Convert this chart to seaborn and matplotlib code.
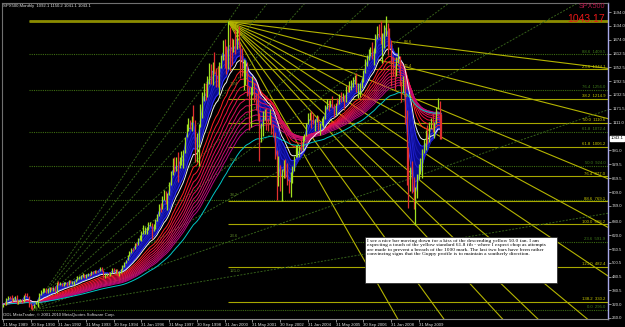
import numpy as np
import pandas as pd
import matplotlib
matplotlib.use("Agg")
import matplotlib.pyplot as plt
from matplotlib.patches import Rectangle
import seaborn as sns

sns.set_theme(style="dark")
plt.rcParams['font.family'] = ['Liberation Sans', 'DejaVu Sans']

# ---------------- data (monthly SPX500, May 1989 .. Jun 2010) ----------------
close = [
 320.5, 318.0, 346.1, 351.5, 349.2, 340.4, 346.0, 353.4,
 329.1, 331.9, 339.9, 330.8, 361.2, 358.0, 356.2, 322.6, 306.1, 304.0, 322.2, 330.2,
 343.9, 367.1, 375.2, 375.4, 389.8, 371.2, 387.8, 395.4, 387.9, 392.5, 375.2, 417.1,
 408.8, 412.7, 403.7, 415.0, 415.4, 408.1, 424.2, 414.0, 417.8, 418.7, 431.4, 435.7,
 438.8, 443.4, 451.7, 440.2, 450.2, 450.5, 448.1, 463.6, 458.9, 467.8, 461.8, 466.5,
 481.6, 467.1, 445.8, 450.9, 456.5, 444.3, 458.3, 475.5, 462.7, 472.4, 453.7, 459.3,
 470.4, 487.4, 500.7, 514.7, 533.4, 544.8, 562.1, 561.9, 584.4, 581.5, 605.4, 615.9,
 636.0, 640.4, 645.5, 654.2, 669.1, 670.6, 640.0, 652.0, 687.3, 705.3, 757.0, 740.7,
 786.2, 790.8, 757.1, 801.3, 848.3, 885.1, 954.3, 899.5, 947.3, 914.6, 955.4, 970.4,
 980.3, 1049.3, 1101.8, 1111.8, 1090.8, 1133.8, 1120.7, 957.3, 1017.0, 1098.7, 1163.6, 1229.2,
 1279.6, 1238.3, 1286.4, 1335.2, 1301.8, 1372.7, 1328.7, 1320.4, 1282.7, 1362.9, 1388.9, 1469.3,
 1394.5, 1366.4, 1498.6, 1452.4, 1420.6, 1454.6, 1430.8, 1517.7, 1436.5, 1429.4, 1315.2, 1320.3,
 1366.0, 1239.9, 1160.3, 1249.5, 1255.8, 1224.4, 1211.2, 1133.6, 1040.9, 1059.8, 1139.5, 1148.1,
 1130.2, 1106.7, 1147.4, 1076.9, 1067.1, 989.8, 911.6, 916.1, 815.3, 885.8, 936.3, 879.8,
 855.7, 841.2, 848.2, 916.9, 963.6, 974.5, 990.3, 1008.0, 996.0, 1050.7, 1058.2, 1111.9,
 1131.1, 1144.9, 1126.2, 1107.3, 1120.7, 1140.8, 1101.7, 1104.2, 1114.6, 1130.2, 1173.8, 1211.9,
 1181.3, 1203.6, 1180.6, 1156.9, 1191.5, 1191.3, 1234.2, 1220.3, 1228.8, 1207.0, 1249.5, 1248.3,
 1280.1, 1280.7, 1294.9, 1310.6, 1270.1, 1270.2, 1276.7, 1303.8, 1335.9, 1377.9, 1400.6, 1418.3,
 1438.2, 1406.8, 1420.9, 1482.4, 1530.6, 1503.4, 1455.3, 1474.0, 1526.8, 1549.4, 1481.1, 1468.4,
 1378.6, 1330.6, 1322.7, 1385.6, 1400.4, 1280.0, 1267.4, 1282.8, 1166.4, 968.8, 896.2, 903.3,
 825.9, 735.1, 797.9, 872.8, 919.1, 919.3, 987.5, 1020.6, 1057.1, 1036.2, 1095.6, 1115.1,
 1073.9, 1104.5, 1169.4, 1186.7, 1089.4, 1043.1]
high = [
 321.4, 328.0, 346.9, 353.9, 354.0, 360.4, 346.7, 354.0,
 359.7, 337.0, 344.5, 344.0, 362.0, 369.0, 369.8, 357.0, 325.0, 315.0, 323.0, 332.0,
 344.0, 370.0, 380.0, 391.0, 390.0, 390.0, 390.0, 397.0, 396.0, 393.0, 399.0, 419.0,
 420.8, 418.0, 413.0, 418.0, 419.0, 417.0, 425.0, 425.0, 422.0, 420.0, 432.0, 441.0,
 442.0, 449.0, 456.0, 452.0, 452.0, 454.0, 451.0, 464.0, 463.0, 469.0, 470.0, 467.0,
 482.9, 482.0, 469.0, 454.0, 458.0, 462.0, 459.0, 477.0, 476.0, 474.0, 473.0, 464.0,
 472.0, 489.0, 503.0, 515.0, 535.0, 551.0, 565.0, 565.0, 587.0, 587.0, 609.0, 622.0,
 638.0, 664.0, 656.0, 656.0, 680.0, 680.0, 675.0, 670.0, 690.0, 714.0, 758.0, 761.0,
 794.0, 817.0, 814.0, 804.0, 851.0, 899.0, 957.0, 961.0, 961.0, 983.0, 961.0, 986.0,
 993.0, 1051.0, 1106.0, 1131.0, 1122.0, 1139.0, 1190.0, 1122.0, 1066.0, 1104.0, 1193.0, 1245.0,
 1283.0, 1283.0, 1316.0, 1371.0, 1368.0, 1375.0, 1421.0, 1352.0, 1358.0, 1375.0, 1408.0, 1474.0,
 1478.0, 1445.0, 1553.0, 1527.0, 1481.0, 1475.0, 1517.0, 1518.0, 1531.0, 1454.0, 1438.0, 1390.0,
 1383.0, 1376.0, 1267.0, 1269.0, 1316.0, 1286.0, 1239.0, 1255.0, 1155.0, 1111.0, 1163.0, 1173.0,
 1176.0, 1131.0, 1173.0, 1147.0, 1107.0, 1070.0, 994.0, 965.0, 925.0, 908.0, 951.0, 954.0,
 935.0, 864.0, 895.0, 924.0, 965.0, 1015.0, 1016.0, 1011.0, 1040.0, 1053.0, 1063.0, 1112.0,
 1155.0, 1158.0, 1163.0, 1150.0, 1128.0, 1146.0, 1141.0, 1109.0, 1131.0, 1142.0, 1188.0, 1217.0,
 1212.0, 1212.0, 1229.0, 1192.0, 1199.0, 1219.0, 1236.0, 1246.0, 1243.0, 1233.0, 1271.0, 1276.0,
 1295.0, 1297.0, 1310.0, 1318.0, 1327.0, 1285.0, 1283.0, 1307.0, 1340.0, 1389.0, 1407.0, 1431.0,
 1441.0, 1462.0, 1438.0, 1498.0, 1535.0, 1541.0, 1556.0, 1503.0, 1539.0, 1576.0, 1545.0, 1524.0,
 1471.0, 1396.0, 1359.0, 1397.0, 1440.0, 1404.0, 1292.0, 1313.0, 1303.0, 1167.0, 1007.0, 918.0,
 943.0, 876.0, 832.0, 888.0, 930.0, 956.0, 997.0, 1039.0, 1081.0, 1101.0, 1113.0, 1130.0,
 1150.4, 1112.4, 1180.7, 1219.8, 1205.1, 1150.2]
low = [
 307.1, 315.0, 317.0, 340.0, 342.0, 328.0, 335.3, 339.6,
 320.0, 322.0, 329.6, 325.0, 330.0, 355.0, 350.0, 307.0, 300.0, 295.0, 303.0, 321.0,
 309.0, 340.0, 362.0, 370.0, 372.0, 368.0, 370.0, 374.0, 383.0, 378.0, 374.0, 371.0,
 406.0, 406.0, 401.0, 401.0, 409.0, 401.0, 404.0, 411.0, 410.0, 402.0, 415.0, 426.0,
 428.0, 429.0, 440.0, 436.0, 436.0, 441.0, 441.0, 447.0, 452.0, 458.0, 455.0, 459.0,
 464.0, 464.0, 436.0, 436.0, 444.0, 441.0, 443.0, 456.0, 461.0, 455.0, 449.0, 443.0,
 457.0, 470.0, 481.0, 499.0, 511.0, 530.0, 544.0, 553.0, 559.0, 574.0, 580.0, 601.0,
 597.0, 628.0, 627.0, 627.0, 642.0, 662.0, 605.0, 639.0, 649.0, 685.0, 703.0, 723.0,
 737.0, 773.0, 756.0, 733.0, 798.0, 841.0, 883.0, 898.0, 899.0, 855.0, 912.0, 925.0,
 912.0, 980.0, 1047.0, 1076.0, 1086.0, 1074.0, 1114.0, 939.0, 939.0, 923.0, 1093.0, 1132.0,
 1205.0, 1211.0, 1222.0, 1282.0, 1281.0, 1277.0, 1325.0, 1268.0, 1268.0, 1233.0, 1348.0, 1387.0,
 1350.0, 1325.0, 1346.0, 1339.0, 1361.0, 1420.0, 1413.0, 1431.0, 1436.0, 1305.0, 1316.0, 1254.0,
 1274.0, 1228.0, 1081.0, 1091.0, 1232.0, 1203.0, 1165.0, 1124.0, 944.0, 1026.0, 1054.0, 1124.0,
 1081.0, 1074.0, 1104.0, 1063.0, 1048.0, 952.0, 775.0, 834.0, 815.0, 768.0, 872.0, 872.0,
 840.0, 806.0, 789.0, 847.0, 902.0, 963.0, 962.0, 960.0, 990.0, 994.0, 1031.0, 1053.0,
 1107.0, 1124.0, 1087.0, 1107.0, 1076.0, 1113.0, 1078.0, 1060.0, 1102.0, 1091.0, 1128.0, 1173.0,
 1163.0, 1180.0, 1176.0, 1137.0, 1146.0, 1188.0, 1191.0, 1201.0, 1205.0, 1168.0, 1201.0, 1245.0,
 1246.0, 1253.0, 1268.0, 1280.0, 1245.0, 1219.0, 1224.0, 1261.0, 1290.0, 1327.0, 1360.0, 1385.0,
 1403.0, 1389.0, 1364.0, 1416.0, 1476.0, 1484.0, 1454.0, 1370.0, 1439.0, 1489.0, 1406.0, 1435.0,
 1270.0, 1317.0, 1256.0, 1313.0, 1373.0, 1272.0, 1200.0, 1247.0, 1106.0, 840.0, 741.0, 815.0,
 804.0, 735.0, 667.0, 783.0, 866.0, 888.0, 869.0, 978.0, 992.0, 1020.0, 1029.0, 1086.0,
 1071.6, 1044.5, 1105.4, 1170.7, 1040.8, 1041.1]

x_tick_labels = ["31 May 1989", "30 Sep 1990", "31 Jan 1992", "31 May 1993", "30 Sep 1994",
                 "31 Jan 1996", "31 May 1997", "30 Sep 1998", "31 Jan 2000", "31 May 2001",
                 "30 Sep 2002", "31 Jan 2004", "31 May 2005", "30 Sep 2006", "31 Jan 2008",
                 "31 May 2009"]
y_ticks = [260.0, 320.0, 380.5, 440.5, 500.5, 560.5, 620.0, 680.0, 749.0, 809.0, 869.5,
           929.5, 991.0, 1111.0, 1171.5, 1232.5, 1292.5, 1352.5, 1412.5, 1474.0, 1534.0, 1594.0]

ema_short = [3, 5, 8, 10, 12, 15]
ema_long = [25, 30, 35, 40, 45, 50, 55, 60, 65, 70]
ema_white = 18
ema_cyan = 85

fib_levels = [0.0, 23.6, 38.2, 50.0, 61.8, 76.4, 88.6, 100.0, 121.0, 138.2]
green_fib_levels = [0.0, 23.6, 38.2, 50.0, 61.8, 76.4, 88.6, 100.0]
yellow_fan_levels = [88.6, 76.4, 61.8, 50.0, 38.2, 23.6, 11.4, 0.0, -27.2, -61.8]
green_fan_levels = [88.6, 76.4, 61.8, 50.0, 38.2, 23.6, 11.4, 0.0]
left_labels = ["76.4", "50.0", "38.2", "23.6", "121.0"]
left_label_prices = [1271.0, 940.0, 788.0, 609.0, 456.0]

# anchors: (month index, price)
high_2000 = (130, 1552.9)
low_2009 = (238, 668.2)
low_1990 = (17, 295.0)

note = ("I see a nice bar moving down for a kiss of the descending yellow 50.0 fan. I am\n"
        "expecting a touch of the yellow standard 61.8 fib - where I expect chop as attempts\n"
        "are made to prevent a breach of the 1000 mark. The last two bars have been rather\n"
        "convincing signs that the Guppy profile is to maintain a southerly direction.")

# ---------------- frame ----------------
W, H = 625, 327
fig = plt.figure(figsize=(W / 100, H / 100), dpi=100, facecolor="black")
ax = fig.add_axes([2 / W, 1 - 319 / H, 606 / W, 316 / H], facecolor="black")
XMAX = 349.2
ax.set_xlim(-0.5, XMAX)
ax.set_ylim(255.6, 1633.4)

n = len(close)
df = pd.DataFrame({"m": np.arange(n), "close": close, "high": high, "low": low})

# ---------------- fib retracements ----------------
g0, g1 = low_1990[1], high_2000[1]
gprices = [g0 + lv / 100 * (g1 - g0) for lv in green_fib_levels]
ax.hlines(gprices, 15, XMAX, colors="#3d6b12", linestyles=(0, (1, 1)), lw=0.8, zorder=1)
y0, y1 = high_2000[1], low_2009[1]
yprices = [y0 - lv / 100 * (y0 - y1) for lv in fib_levels]
ax.hlines(yprices, high_2000[0], XMAX, colors="#a8a800", lw=0.8, zorder=1)
ax.hlines([high_2000[1]], 15, XMAX, colors="#8c8c00", lw=2.0, zorder=1)

LBL = 3.1
for lv, p in zip(green_fib_levels, gprices):
    if lv in (38.2, 100.0):
        continue
    ax.text(XMAX - 1.5, p + 3, f"{lv:.1f}  {p:.1f}", color="#3f7a1a", fontsize=LBL,
            ha="right", va="bottom", zorder=5)
for lv, p in zip(fib_levels, yprices):
    if lv == 0.0:
        continue
    ax.text(XMAX - 1.5, p + 3, f"{lv:.1f}  {p:.1f}", color="#c8c800", fontsize=LBL,
            ha="right", va="bottom", zorder=5)
for t, p in zip(left_labels, left_label_prices):
    ax.text(high_2000[0] + 1, p, t, color="#5f8a2a", fontsize=LBL, ha="left", va="bottom",
            zorder=5)

# ---------------- fans ----------------
def fan(a, b, levels, color, ls, lw):
    xa, pa = a
    xb, pb = b
    for lv in levels:
        pt = pb + lv / 100 * (pa - pb)
        slope = (pt - pa) / (xb - xa)
        ax.plot([xa, XMAX + 5], [pa, pa + slope * (XMAX + 5 - xa)], color=color, ls=ls,
                lw=lw, zorder=1)

fan(high_2000, low_2009, yellow_fan_levels, "#b4b400", "-", 0.8)
fan(low_1990, high_2000, green_fan_levels, "#35601a", (0, (2, 1.5)), 0.7)

for lv in [88.6, 76.4, 61.8]:
    pt = low_2009[1] + lv / 100 * (high_2000[1] - low_2009[1])
    ax.text(low_2009[0] - 2, pt + 4, f"{lv:.1f}", color="#b4b400", fontsize=LBL,
            ha="right", va="bottom", zorder=5)

# ---------------- Guppy MMA ----------------
rows = []
for p in ema_short + ema_long + [ema_white, ema_cyan]:
    e = pd.Series(close).ewm(span=p, adjust=False).mean()
    rows.append(pd.DataFrame({"m": np.arange(n), "ema": e.values, "period": str(p)}))
emas = pd.concat(rows, ignore_index=True)
wide = emas.pivot(index="m", columns="period", values="ema")
sc = [str(p) for p in ema_short]
ax.fill_between(wide.index, wide[sc].min(axis=1), wide[sc].max(axis=1), color="#0a0a8c",
                lw=0, zorder=2)
pal = {}
blues = ["#3a3aff", "#2828e0", "#2020d0", "#1c1cc0", "#1818b0", "#3030ff"]
reds = ["#ff2020", "#f81830", "#f01040", "#e81050", "#e01058", "#d81060", "#d01068",
        "#c81070", "#c00878", "#b80880"]
for i, p in enumerate(ema_short):
    pal[str(p)] = blues[i]
for i, p in enumerate(ema_long):
    pal[str(p)] = reds[i]
pal[str(ema_white)] = "#f0f0f0"
pal[str(ema_cyan)] = "#00c8c8"
sns.lineplot(data=emas, x="m", y="ema", hue="period", palette=pal, lw=0.7, legend=False,
             ax=ax, zorder=3)

# ---------------- price bars ----------------
prev = df["close"].shift(1).fillna(df["close"])
colors = np.where(df["close"] >= prev, "#a0e020", "#e03030")
ax.vlines(df["m"], df["low"], df["high"], colors=colors, lw=0.9, zorder=4)

# ---------------- axes styling ----------------
ax.set_xlabel("")
ax.set_ylabel("")
ax.yaxis.tick_right()
ax.set_yticks(y_ticks)
ax.set_yticklabels([f"{v:.1f}" for v in y_ticks])
ax.set_xticks(np.arange(len(x_tick_labels)) * 16)
ax.set_xticklabels(x_tick_labels, ha="left")
ax.tick_params(axis="both", colors="#c0c0c0", labelcolor="#e0e0e0", labelsize=3.1,
               length=2, width=0.5, pad=1, bottom=True, right=True, left=False)
ax.grid(False)
for s in ["left", "top"]:
    ax.spines[s].set_color("#707070")
    ax.spines[s].set_linestyle((0, (1, 1)))
    ax.spines[s].set_linewidth(0.8)
ax.spines["bottom"].set_color("#8c8c8c")
ax.spines["bottom"].set_linewidth(0.8)
ax.spines["right"].set_color("#a8a8e8")
ax.spines["right"].set_linewidth(1.0)

# current price tag
ax.text(XMAX + 1.5, close[-1], f"{close[-1]:.1f}", color="black", fontsize=3.1,
        ha="left", va="center", zorder=6, clip_on=False,
        bbox=dict(boxstyle="square,pad=0.15", fc="white", ec="white"))

# ---------------- texts ----------------
fig.text(3 / W, 1 - 4 / H, "SPX500,Monthly  1092.1 1150.2 1041.1 1043.1", color="#e0e0e0",
         fontsize=3.1, ha="left", va="top")
fig.text(3 / W, 1 - 315 / H, "ODL MetaTrader, \u00a9 2001-2010 MetaQuotes Software Corp.",
         color="#e0e0e0", fontsize=3.1, ha="left", va="center")
fig.text(605 / W, 1 - 3 / H, "SPX500", color="#b01848", fontsize=5.2, ha="right", va="top")
fig.text(605 / W, 1 - 14 / H, "1043.17", color="#e81818", fontsize=7.5, ha="right", va="top")

fig.patches.append(Rectangle((365 / W, 1 - 283 / H), 192 / W, 46 / H, transform=fig.transFigure,
                             fc="white", ec="#202020", lw=0.5, zorder=10))
fig.text(367 / W, 1 - 239 / H, note, color="black", fontsize=3.9,
         family=["Liberation Serif", "DejaVu Serif"], ha="left", va="top",
         linespacing=1.15, zorder=11)

fig.savefig("out.png", dpi=100, facecolor="black")
